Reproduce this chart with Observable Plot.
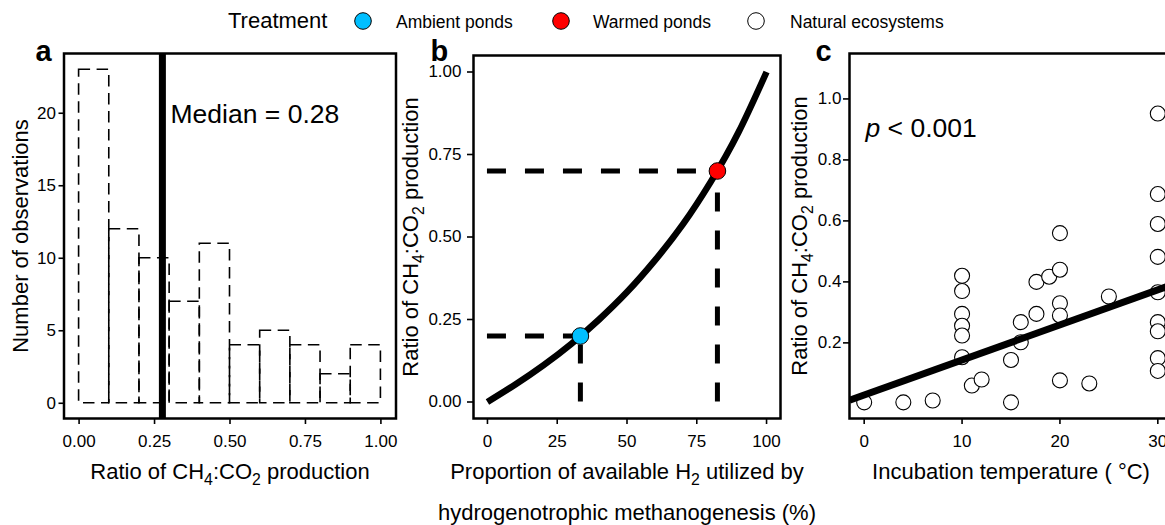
<!DOCTYPE html>
<html>
<head>
<meta charset="utf-8">
<script src="https://cdn.jsdelivr.net/npm/d3@7"></script>
<script src="https://cdn.jsdelivr.net/npm/@observablehq/plot@0.6"></script>
<style>
  html, body { margin: 0; padding: 0; background: #fff; }
  body { width: 1165px; height: 525px; overflow: hidden; position: relative; }
  .panel { position: absolute; top: 0; height: 525px; }
  .panel svg { max-width: none !important; }
  #legend { position: absolute; top: 0; left: 0; z-index: 5; }
</style>
</head>
<body>
<div id="pa" class="panel" style="left:0px;width:400px"></div>
<div id="pb" class="panel" style="left:400px;width:385px"></div>
<div id="pc" class="panel" style="left:785px;width:400px"></div>
<div id="legend"></div>
<script>
const FONT = '"Liberation Sans", Arial, Helvetica, sans-serif';
const SVGNS = "http://www.w3.org/2000/svg";

// ---------- Legend ----------
const treatments = ["Ambient ponds", "Warmed ponds", "Natural ecosystems"];
const treatmentFill = ["#00BFFF", "#FF0000", "#FFFFFF"];
const legendTitle = "Treatment";

// ---------- Panel a: histogram ----------
const binStart = [0.0, 0.1, 0.2, 0.3, 0.4, 0.5, 0.6, 0.7, 0.8, 0.9];
const binEnd   = [0.1, 0.2, 0.3, 0.4, 0.5, 0.6, 0.7, 0.8, 0.9, 1.0];
const binCount = [23, 12, 10, 7, 11, 4, 5, 4, 2, 4];
const medianRatio = 0.276;
const aTicksX = [0, 0.25, 0.5, 0.75, 1];
const aTicksY = [0, 5, 10, 15, 20];
const aTitleX = "Ratio of CH4:CO2 production";
const aTitleY = "Number of observations";

// ---------- Panel b: model curve ----------
const h2Utilized = [0, 10, 20, 30, 40, 50, 60, 70, 80, 90, 100];
const ratioModel = [0, 0.053, 0.111, 0.176, 0.25, 0.333, 0.429, 0.538, 0.667, 0.818, 1.0];
const pondTreatment = ["Ambient ponds", "Warmed ponds"];
const pondH2 = [33.3, 82.4];
const pondRatio = [0.2, 0.7];
const bTicksX = [0, 25, 50, 75, 100];
const bTicksY = [0, 0.25, 0.5, 0.75, 1];
const bTitleX1 = "Proportion of available H2 utilized by";
const bTitleX2 = "hydrogenotrophic methanogenesis (%)";
const ratioTitle = "Ratio of CH4:CO2 production";

// ---------- Panel c: natural ecosystems ----------
const natTemp  = [0, 4, 7, 10, 10, 10, 10, 10, 10, 11, 12, 15, 15, 16, 16, 17.6, 17.6, 18.9,
                  20, 20, 20, 20, 20, 23, 25, 30, 30, 30, 30, 30, 30, 30, 30, 30];
const natRatio = [0.005, 0.005, 0.011, 0.42, 0.37, 0.295, 0.256, 0.224, 0.153, 0.06, 0.08, 0.144, 0.005, 0.268, 0.202, 0.295, 0.40, 0.417,
                  0.56, 0.44, 0.33, 0.29, 0.077, 0.067, 0.352, 0.952, 0.688, 0.59, 0.482, 0.366, 0.268, 0.238, 0.15, 0.108];
const fitTemp  = [-1.5, 31.5];
const fitRatio = [0.012, 0.391];
const cTicksX = [0, 10, 20, 30];
const cTicksY = [0.2, 0.4, 0.6, 0.8, 1.0];
const cTitleX = "Incubation temperature ( °C)";
const pText = "p < 0.001";

// ---------- build tables ----------
const bins = binStart.map((s, i) => ({x1: s, x2: binEnd[i], count: binCount[i]}));
const curve = h2Utilized.map((h, i) => ({h2: h, ratio: ratioModel[i]}));
const ponds = pondTreatment.map((t, i) => ({treatment: t, h2: pondH2[i], ratio: pondRatio[i]}));
const natural = natTemp.map((t, i) => ({treatment: "Natural ecosystems", temp: t, ratio: natRatio[i]}));
const fit = fitTemp.map((t, i) => ({temp: t, ratio: fitRatio[i]}));

const baseStyle = {fontFamily: FONT, fontSize: "17px", color: "black", background: "transparent", overflow: "visible", maxWidth: "none"};
const colorScale = {domain: treatments, range: treatmentFill};

function rich(svg, match, parts, fs) {
  for (const t of svg.querySelectorAll("text")) {
    if (t.textContent !== match) continue;
    t.textContent = "";
    let shifted = 0;
    for (const [s, kind] of parts) {
      const ts = document.createElementNS(SVGNS, "tspan");
      ts.textContent = s;
      if (kind === "sub") {
        ts.setAttribute("font-size", fs * 0.72);
        ts.setAttribute("dy", fs * 0.28);
        shifted = fs * 0.28;
      } else {
        if (shifted) { ts.setAttribute("dy", -shifted); shifted = 0; }
        if (kind === "italic") ts.setAttribute("font-style", "italic");
      }
      t.appendChild(ts);
    }
  }
}
const ratioParts = [["Ratio of CH"], ["4", "sub"], [":CO"], ["2", "sub"], [" production"]];

const xTitle = (label, dy) => Plot.text([label], {text: d => d, frameAnchor: "bottom", dy, fontSize: 22, textAnchor: "middle", lineAnchor: "middle"});
const yTitle = (label, dx) => Plot.text([label], {text: d => d, frameAnchor: "left", dx, rotate: -90, fontSize: 22, textAnchor: "middle", lineAnchor: "middle"});
const tag = (label, dx, dy) => Plot.text([label], {text: d => d, frameAnchor: "top-left", dx, dy, textAnchor: "start", lineAnchor: "middle", fontSize: 29, fontWeight: "bold"});

// ---------- Panel a ----------
const pa = Plot.plot({
  width: 400, height: 525,
  marginLeft: 63.5, marginRight: 4.5, marginTop: 53, marginBottom: 107,
  style: baseStyle,
  x: {domain: [-0.05, 1.05]},
  y: {domain: [-1.05, 24.12]},
  marks: [
    Plot.rect(bins, {x1: "x1", x2: "x2", y1: 0, y2: "count", fill: "none", stroke: "black",
      strokeWidth: 1.6, strokeDasharray: "11.5,6.5"}),
    Plot.ruleX([medianRatio], {stroke: "black", strokeWidth: 7}),
    Plot.text([{x: 0.303, y: 19.9, label: "Median = " + d3.format(".2f")(medianRatio)}],
      {x: "x", y: "y", text: "label", textAnchor: "start", lineAnchor: "middle", fontSize: 26.5}),
    Plot.frame({stroke: "black", strokeWidth: 2.5}),
    Plot.axisX({ticks: aTicksX, tickFormat: d3.format(".2f"), tickSize: 6, tickPadding: 10, strokeWidth: 1.6, label: null, fontSize: 17}),
    Plot.axisY({ticks: aTicksY, tickFormat: d3.format("d"), tickSize: 5, tickPadding: 3, strokeWidth: 1.6, label: null, fontSize: 17}),
    xTitle(aTitleX, 53),
    yTitle(aTitleY, -43.5),
    tag("a", -28.5, -1.3)
  ]
});
document.getElementById("pa").appendChild(pa);
rich(pa, aTitleX, ratioParts, 22);

// ---------- Panel b ----------
const pb = Plot.plot({
  width: 385, height: 525,
  marginLeft: 73, marginRight: 5, marginTop: 55, marginBottom: 107,
  style: baseStyle,
  x: {domain: [-5, 105]},
  y: {domain: [-0.05, 1.05]},
  color: colorScale,
  marks: [
    Plot.ruleY(ponds, {y: "ratio", x1: 0, x2: "h2", stroke: "black", strokeWidth: 5, strokeDasharray: "19,19", strokeLinecap: "butt"}),
    Plot.ruleX(ponds, {x: "h2", y1: 0, y2: "ratio", stroke: "black", strokeWidth: 5, strokeDasharray: "19,19", strokeLinecap: "butt"}),
    Plot.line(curve, {x: "h2", y: "ratio", curve: "natural", stroke: "black", strokeWidth: 6.5, strokeLinecap: "butt"}),
    Plot.dot(ponds, {x: "h2", y: "ratio", fill: "treatment", stroke: "black", strokeWidth: 1, r: 8.3}),
    Plot.frame({stroke: "black", strokeWidth: 2.5}),
    Plot.axisX({ticks: bTicksX, tickFormat: d3.format("d"), tickSize: 6, tickPadding: 10, strokeWidth: 1.6, label: null, fontSize: 17}),
    Plot.axisY({ticks: bTicksY, tickFormat: d3.format(".2f"), tickSize: 6, tickPadding: 6, strokeWidth: 1.6, label: null, fontSize: 17}),
    xTitle(bTitleX1, 53),
    xTitle(bTitleX2, 94),
    yTitle(ratioTitle, -62.5),
    tag("b", -43, -3.6)
  ]
});
document.getElementById("pb").appendChild(pb);
rich(pb, ratioTitle, ratioParts, 22);
rich(pb, bTitleX1, [["Proportion of available H"], ["2", "sub"], [" utilized by"]], 22);

// ---------- Panel c ----------
const pc = Plot.plot({
  width: 400, height: 525,
  marginLeft: 64, marginRight: 13, marginTop: 53, marginBottom: 107,
  style: baseStyle,
  x: {domain: [-1.5, 31.5]},
  y: {domain: [-0.048, 1.149]},
  color: colorScale,
  marks: [
    Plot.dot(natural, {x: "temp", y: "ratio", fill: "treatment", stroke: "black", strokeWidth: 1.1, r: 7.5}),
    Plot.line(fit, {x: "temp", y: "ratio", stroke: "black", strokeWidth: 7, clip: true, strokeLinecap: "butt"}),
    Plot.text([{x: 0.13, y: 0.902, label: pText}], {x: "x", y: "y", text: "label", textAnchor: "start", lineAnchor: "middle", fontSize: 26.5}),
    Plot.frame({stroke: "black", strokeWidth: 2.5}),
    Plot.axisX({ticks: cTicksX, tickFormat: d3.format("d"), tickSize: 6, tickPadding: 10, strokeWidth: 1.6, label: null, fontSize: 17}),
    Plot.axisY({ticks: cTicksY, tickFormat: d3.format(".1f"), tickSize: 6, tickPadding: 2, strokeWidth: 1.6, label: null, fontSize: 17}),
    xTitle(cTitleX, 53),
    yTitle(ratioTitle, -50),
    tag("c", -34, -1.6)
  ]
});
document.getElementById("pc").appendChild(pc);
rich(pc, ratioTitle, ratioParts, 22);
rich(pc, pText, [["p", "italic"], [" < 0.001"]], 26.5);

// ---------- Legend ----------
const legendCx = [363, 561, 756];
const legendTx = [396, 593, 790];
const lg = d3.select("#legend").append("svg")
  .attr("width", 1165).attr("height", 40)
  .style("font-family", FONT);
lg.append("text").attr("x", 228).attr("y", 27.5).attr("font-size", 22).text(legendTitle);
treatments.forEach((t, i) => {
  lg.append("circle").attr("cx", legendCx[i]).attr("cy", 21).attr("r", 8.3)
    .attr("fill", treatmentFill[i]).attr("stroke", "black").attr("stroke-width", 1);
  lg.append("text").attr("x", legendTx[i]).attr("y", 27.5).attr("font-size", 17.5).text(t);
});
</script>
</body>
</html>
